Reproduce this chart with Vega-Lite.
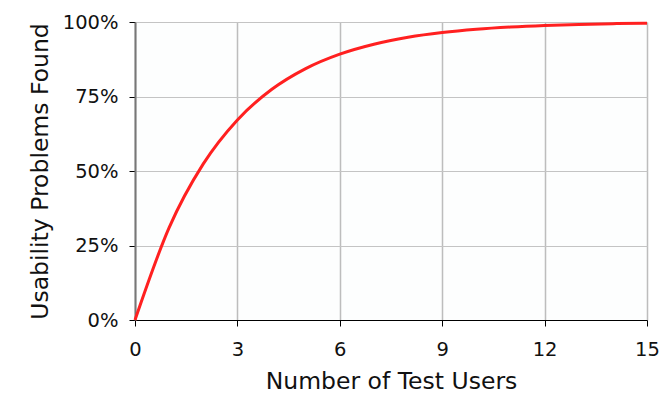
{
  "$schema": "https://vega.github.io/schema/vega-lite/v6.json",
  "autosize": {"type": "none"},
  "width": 512,
  "height": 298,
  "padding": {"left": 135, "top": 22, "right": 24, "bottom": 85},
  "background": "#ffffff",
  "config": {
    "font": "DejaVu Sans",
    "view": {"stroke": null, "fill": "#fdfefe"},
    "axis": {
      "labelFont": "DejaVu Sans",
      "titleFont": "DejaVu Sans",
      "labelFontSize": 19.5,
      "titleFontSize": 23.5,
      "titleFontWeight": "normal",
      "labelColor": "#111",
      "titleColor": "#111",
      "labelFlush": false,
      "labelOverlap": false,
      "gridColor": "#c4c4c4",
      "gridWidth": 1,
      "tickColor": "#000",
      "tickWidth": 1
    }
  },
  "data": {
    "values": [
      {"users": 0, "found": 0},
      {"users": 1, "found": 0.31},
      {"users": 2, "found": 0.5239},
      {"users": 3, "found": 0.6715},
      {"users": 4, "found": 0.7733},
      {"users": 5, "found": 0.8436},
      {"users": 6, "found": 0.8921},
      {"users": 7, "found": 0.9255},
      {"users": 8, "found": 0.9486},
      {"users": 9, "found": 0.9645},
      {"users": 10, "found": 0.9755},
      {"users": 11, "found": 0.9831},
      {"users": 12, "found": 0.9884},
      {"users": 13, "found": 0.992},
      {"users": 14, "found": 0.9945},
      {"users": 15, "found": 0.9962}
    ]
  },
  "mark": {"type": "line", "color": "#ff2020", "strokeWidth": 3, "interpolate": "monotone", "clip": false},
  "encoding": {
    "x": {
      "field": "users",
      "type": "quantitative",
      "scale": {"domain": [0, 15], "nice": false, "zero": true},
      "axis": {
        "title": "Number of Test Users",
        "values": [0, 3, 6, 9, 12, 15],
        "domainColor": "#000",
        "domainWidth": 1,
        "tickSize": 6,
        "labelPadding": 14,
        "titlePadding": 11,
        "gridColor": "#bdbdbd",
        "gridWidth": 1.5
      }
    },
    "y": {
      "field": "found",
      "type": "quantitative",
      "scale": {"domain": [0, 1], "nice": false},
      "axis": {
        "title": "Usability Problems Found",
        "values": [0, 0.25, 0.5, 0.75, 1],
        "format": ".0%",
        "domainColor": "#777",
        "domainWidth": 2,
        "tickSize": 6,
        "labelPadding": 11,
        "titlePadding": 10
      }
    }
  }
}
